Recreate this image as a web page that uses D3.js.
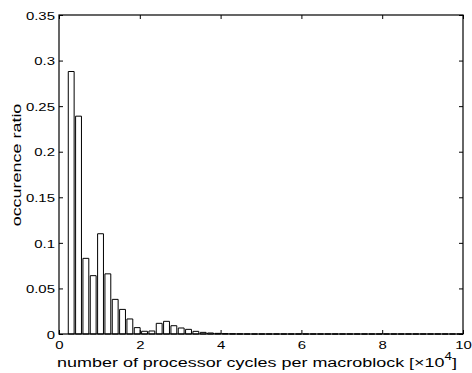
<!DOCTYPE html>
<html>
<head>
<meta charset="utf-8">
<script src="https://cdn.jsdelivr.net/npm/d3@7"></script>
<style>
  html, body { margin: 0; padding: 0; background: #fff; }
  svg { display: block; }
  text { font-family: "Liberation Sans", Arial, Helvetica, sans-serif; fill: #000; }
</style>
</head>
<body>
<svg id="chart" width="472" height="373"></svg>
<script>
// ---- data ----
const binStart = 0.302;   // centre of first bin (x10^4 cycles)
const binWidth = 0.1815;  // bin spacing (x10^4 cycles)
const ratios = [
  0.288, 0.239, 0.083, 0.064, 0.110, 0.066, 0.038, 0.027, 0.0165, 0.007,
  0.003, 0.0033, 0.0117, 0.0139, 0.0091, 0.0066, 0.0051, 0.0029, 0.0018, 0.0011,
  0.0007, 0.0004, 0.0002, 0.0001, 0, 0, 0, 0, 0, 0,
  0, 0, 0, 0, 0, 0, 0, 0, 0, 0,
  0, 0, 0, 0, 0, 0, 0, 0, 0, 0,
  0, 0, 0, 0
];
const xTicks = [0, 2, 4, 6, 8, 10];
const yTicks = [0, 0.05, 0.1, 0.15, 0.2, 0.25, 0.3, 0.35];
const xLabel = "number of processor cycles per macroblock [×10";
const xLabelExp = "4";
const yLabel = "occurence ratio";

// ---- layout ----
const L = 59, R = 463, T = 15, B = 334;
const svg = d3.select("#chart");
const x = d3.scaleLinear().domain([0, 10]).range([L, R]);
const y = d3.scaleLinear().domain([0, 0.35]).range([B, T]);

const bins = ratios.map((v, i) => ({ c: binStart + i * binWidth, v }));
const halfW = binWidth * 0.8 / 2;

// bars
svg.append("g").selectAll("path").data(bins).join("path")
  .attr("d", d => {
    const x0 = x(d.c - halfW), x1 = x(d.c + halfW), y0 = y(0), y1 = y(d.v);
    return `M${x0},${y0}V${y1}H${x1}V${y0}Z`;
  })
  .attr("fill", "#fff")
  .attr("stroke", "#000")
  .attr("stroke-width", 1);

const sx = 1.3;
// axes
const gB = svg.append("g").attr("transform", `translate(0,${B})`)
  .call(d3.axisBottom(x).tickValues(xTicks).tickSizeInner(-4).tickSizeOuter(0).tickFormat(d3.format("~g")));
gB.selectAll(".tick text").attr("y", null).attr("dy", null)
  .attr("transform", `translate(0,15) scale(${sx},1)`)
  .attr("font-size", 11.5).attr("text-anchor", "middle");

const gL = svg.append("g").attr("transform", `translate(${L},0)`)
  .call(d3.axisLeft(y).tickValues(yTicks).tickSizeInner(-4).tickSizeOuter(0).tickFormat(d3.format("~g")));
gL.selectAll(".tick text").attr("x", null)
  .attr("transform", `translate(-4,0) scale(${sx},1)`)
  .attr("font-size", 11.5).attr("text-anchor", "end").attr("dy", "0.36em");

const gT = svg.append("g").attr("transform", `translate(0,${T})`)
  .call(d3.axisTop(x).tickValues(xTicks).tickSizeInner(-4).tickSizeOuter(0).tickFormat(""));
const gR = svg.append("g").attr("transform", `translate(${R},0)`)
  .call(d3.axisRight(y).tickValues(yTicks).tickSizeInner(-4).tickSizeOuter(0).tickFormat(""));

[gB, gL, gT, gR].forEach(g => {
  g.select(".domain").remove();
  g.selectAll(".tick line").attr("stroke", "#000");
  g.attr("font-family", null);
});

// frame
svg.append("rect")
  .attr("x", L).attr("y", T).attr("width", R - L).attr("height", B - T)
  .attr("fill", "none").attr("stroke", "#000").attr("stroke-width", 1.2);

// x label
const xl = svg.append("text")
  .attr("transform", `translate(257,367) scale(1.33,1)`)
  .attr("text-anchor", "middle").attr("font-size", 13.5);
xl.append("tspan").text(xLabel);
xl.append("tspan").attr("dy", -7).attr("font-size", 10).text(xLabelExp);
xl.append("tspan").attr("dy", 7).text("]");

// y label
svg.append("text")
  .attr("transform", `translate(21,165) rotate(-90) scale(1.33,1)`)
  .attr("text-anchor", "middle").attr("font-size", 13.5)
  .text(yLabel);
</script>
</body>
</html>
